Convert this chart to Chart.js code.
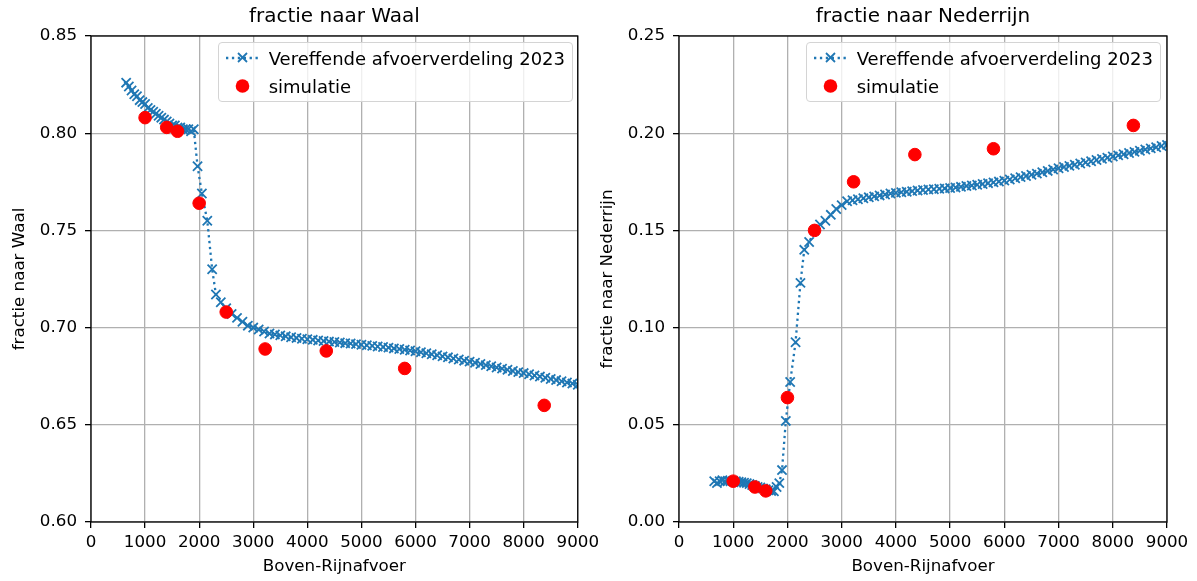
<!DOCTYPE html>
<html>
<head>
<meta charset="utf-8">
<script src="https://cdn.jsdelivr.net/npm/chart.js@4.4.1/dist/chart.umd.min.js"></script>
<style>
  body { margin: 0; background: #fff; width: 1197px; height: 581px; position: relative; overflow: hidden; font-family: 'DejaVu Sans', sans-serif; }
  canvas { position: absolute; top: 0; }
  #waal { left: 0; }
  #nederrijn { left: 588px; }
  .legenda { position: absolute; top: 42px; padding: 5px 7px; border: 1px solid #d4d4d4; border-radius: 4px; background: rgba(255,255,255,0.8); font-size: 18px; color: #000; z-index: 2; }
  .rij { display: flex; align-items: center; height: 20px; white-space: nowrap; }
  .rij + .rij { margin-top: 8px; }
  .rij svg { margin-right: 10px; flex: none; }
</style>
</head>
<body>
<canvas id="waal" width="604" height="581"></canvas>
<canvas id="nederrijn" width="609" height="581"></canvas>

<div class="legenda" id="legendaWaal" style="right: 624px;"></div>
<div class="legenda" id="legendaNederrijn" style="right: 36px;"></div>

<script>
// ========== Data ==========

// Boven-Rijnafvoer (m3/s) van de vereffende afvoerverdeling 2023
const afvoer = [
  650, 700, 750, 800, 850, 900, 950, 1000, 1050, 1100, 1150, 1200, 1250, 1300,
  1350, 1400, 1450, 1500, 1550, 1600, 1650, 1700, 1750, 1800, 1850, 1900,
  1970, 2050, 2150, 2240, 2310,
  2400, 2500, 2600, 2700, 2800, 2900, 3000, 3100, 3200, 3300, 3400, 3500,
  3600, 3700, 3800, 3900, 4000, 4100, 4200, 4300, 4400, 4500, 4600, 4700,
  4800, 4900, 5000, 5100, 5200, 5300, 5400, 5500, 5600, 5700, 5800, 5900,
  6000, 6100, 6200, 6300, 6400, 6500, 6600, 6700, 6800, 6900, 7000, 7100,
  7200, 7300, 7400, 7500, 7600, 7700, 7800, 7900, 8000, 8100, 8200, 8300,
  8400, 8500, 8600, 8700, 8800, 8900, 9000
];

const fractieWaal = [
  0.826, 0.824, 0.822, 0.820, 0.819, 0.817, 0.816, 0.815, 0.813, 0.812, 0.811, 0.810, 0.809, 0.808,
  0.807, 0.806, 0.805, 0.804, 0.804, 0.803, 0.803, 0.802, 0.802, 0.802, 0.801, 0.802,
  0.783, 0.769, 0.755, 0.730, 0.717,
  0.713, 0.710, 0.707, 0.705, 0.703, 0.701, 0.700, 0.699, 0.698, 0.697, 0.6965, 0.696,
  0.6955, 0.695, 0.6947, 0.6943, 0.694, 0.6937, 0.6934, 0.6931, 0.6928, 0.6926, 0.6923, 0.692,
  0.6918, 0.6915, 0.6912, 0.6909, 0.6906, 0.6903, 0.690, 0.6897, 0.6893, 0.689, 0.6886, 0.6882,
  0.6878, 0.6873, 0.6868, 0.6863, 0.6858, 0.6852, 0.6847, 0.6841, 0.6836, 0.683, 0.6825, 0.6819,
  0.6813, 0.6807, 0.6801, 0.6795, 0.6789, 0.6783, 0.6777, 0.6771, 0.6766, 0.676, 0.6754, 0.6748,
  0.6742, 0.6736, 0.673, 0.6724, 0.6718, 0.6712, 0.6706
];

const fractieNederrijn = [
  0.021, 0.020, 0.021, 0.0215, 0.021, 0.0212, 0.021, 0.0212, 0.021, 0.0207, 0.0205, 0.0202, 0.020, 0.0195,
  0.019, 0.0185, 0.018, 0.0178, 0.0172, 0.0168, 0.0163, 0.016, 0.0158, 0.018, 0.020, 0.0267,
  0.052, 0.072, 0.0925, 0.123, 0.140,
  0.144, 0.150, 0.153, 0.155, 0.158, 0.161, 0.163, 0.165, 0.1655, 0.166, 0.1665, 0.167,
  0.1675, 0.168, 0.1685, 0.169, 0.1693, 0.1696, 0.1699, 0.1702, 0.1705, 0.1708, 0.171, 0.1712,
  0.1714, 0.1716, 0.1718, 0.1721, 0.1724, 0.1728, 0.1731, 0.1735, 0.1739, 0.1743, 0.1747, 0.1751,
  0.1756, 0.1762, 0.1768, 0.1774, 0.178, 0.1786, 0.1792, 0.1799, 0.1806, 0.1813, 0.182, 0.1826,
  0.1832, 0.1838, 0.1844, 0.185, 0.1856, 0.1862, 0.1868, 0.1874, 0.188, 0.1886, 0.1892, 0.1898,
  0.1904, 0.191, 0.1916, 0.1922, 0.1928, 0.1934, 0.194
];

// simulaties
const simAfvoer = [1000, 1400, 1600, 2000, 2500, 3220, 4350, 5800, 8380];
const simWaal = [0.808, 0.803, 0.801, 0.764, 0.708, 0.689, 0.688, 0.679, 0.660];
const simNederrijn = [0.021, 0.018, 0.016, 0.064, 0.150, 0.175, 0.189, 0.192, 0.204];

const xTicks = [0, 1000, 2000, 3000, 4000, 5000, 6000, 7000, 8000, 9000];
const yTicksWaal = [0.60, 0.65, 0.70, 0.75, 0.80, 0.85];
const yTicksNederrijn = [0.00, 0.05, 0.10, 0.15, 0.20, 0.25];

const labelLijn = 'Vereffende afvoerverdeling 2023';
const labelSim = 'simulatie';

// ========== Stijl ==========

const BLAUW = '#1f77b4';
const ROOD = '#ff0000';
const GRIJS = '#b0b0b0';
const FONT = 'DejaVu Sans';

// zwart kader rond het plotgebied (matplotlib spines)
const kader = {
  id: 'kader',
  afterDatasetsDraw(chart) {
    const { ctx, chartArea: a } = chart;
    ctx.save();
    ctx.strokeStyle = '#000';
    ctx.lineWidth = 1.3;
    ctx.strokeRect(a.left, a.top, a.right - a.left, a.bottom - a.top);
    ctx.restore();
  }
};

function punten(xs, ys) {
  return xs.map((x, i) => ({ x: x, y: ys[i] }));
}

function maakGrafiek(id, titel, lijnData, simData, yTicks, paddingRechts) {
  const ctx = document.getElementById(id);

  return new Chart(ctx, {
    type: 'line',
    data: {
      datasets: [
        {
          label: labelLijn,
          data: punten(afvoer, lijnData),
          borderColor: BLAUW,
          borderWidth: 2.3,
          borderDash: [2.3, 3.6],
          pointStyle: 'crossRot',
          pointRadius: 6.5,
          pointBorderWidth: 1.8,
          pointBorderColor: BLAUW,
          pointBackgroundColor: BLAUW,
          fill: false,
          tension: 0,
          clip: 0,
          order: 2
        },
        {
          label: labelSim,
          data: punten(simAfvoer, simData),
          showLine: false,
          pointStyle: 'circle',
          pointRadius: 6.3,
          pointBorderWidth: 1,
          pointBackgroundColor: ROOD,
          pointBorderColor: ROOD,
          clip: 0,
          order: 1
        }
      ]
    },
    options: {
      responsive: false,
      animation: false,
      devicePixelRatio: 1,
      layout: { padding: { left: 0, right: paddingRechts, top: 0, bottom: 0 } },
      plugins: {
        legend: { display: false },
        tooltip: { enabled: false },
        title: {
          display: true,
          fullSize: false,
          text: titel,
          color: '#000',
          font: { family: FONT, size: 20, weight: 'normal', lineHeight: 1.2 },
          padding: { top: 5, bottom: 7 }
        }
      },
      scales: {
        x: {
          type: 'linear',
          min: xTicks[0],
          max: xTicks[xTicks.length - 1],
          afterBuildTicks: s => { s.ticks = xTicks.map(v => ({ value: v })); },
          afterFit: s => { s.height = 59; },
          grid: { color: GRIJS, lineWidth: 1.3, tickColor: '#000', tickLength: 6, tickWidth: 1.3 },
          border: { display: false },
          ticks: {
            color: '#000',
            padding: 5,
            maxRotation: 0,
            autoSkip: false,
            font: { family: FONT, size: 16.7 },
            callback: v => String(v)
          },
          title: {
            display: true,
            text: 'Boven-Rijnafvoer',
            color: '#000',
            font: { family: FONT, size: 16.7, lineHeight: 1.2 },
            padding: { top: 0, bottom: 4 }
          }
        },
        y: {
          min: yTicks[0],
          max: yTicks[yTicks.length - 1],
          afterBuildTicks: s => { s.ticks = yTicks.map(v => ({ value: v })); },
          afterFit: s => { s.width = 91; },
          grid: { color: GRIJS, lineWidth: 1.3, tickColor: '#000', tickLength: 6, tickWidth: 1.3 },
          border: { display: false },
          ticks: {
            color: '#000',
            padding: 8,
            autoSkip: false,
            font: { family: FONT, size: 16.7 },
            callback: v => v.toFixed(2)
          },
          title: {
            display: true,
            text: titel,
            color: '#000',
            font: { family: FONT, size: 16.7, lineHeight: 1.2 },
            padding: { top: 10, bottom: 0 }
          }
        }
      }
    },
    plugins: [kader]
  });
}

// ========== Legenda ==========

function maakLegenda(id) {
  const el = document.getElementById(id);
  el.innerHTML = `
    <div class="rij">
      <svg width="33" height="20">
        <line x1="0" y1="10" x2="33" y2="10" stroke="${BLAUW}" stroke-width="2.3" stroke-dasharray="2.3 3.6"/>
        <line x1="12" y1="5" x2="21" y2="14" stroke="${BLAUW}" stroke-width="1.8"/>
        <line x1="12" y1="14" x2="21" y2="5" stroke="${BLAUW}" stroke-width="1.8"/>
      </svg>
      <span>${labelLijn}</span>
    </div>
    <div class="rij">
      <svg width="33" height="20">
        <circle cx="16.5" cy="10" r="6.8" fill="${ROOD}"/>
      </svg>
      <span>${labelSim}</span>
    </div>
  `;
}

maakGrafiek('waal', 'fractie naar Waal', fractieWaal, simWaal, yTicksWaal, 20);
maakGrafiek('nederrijn', 'fractie naar Nederrijn', fractieNederrijn, simNederrijn, yTicksNederrijn, 30);
maakLegenda('legendaWaal');
maakLegenda('legendaNederrijn');
</script>
</body>
</html>
